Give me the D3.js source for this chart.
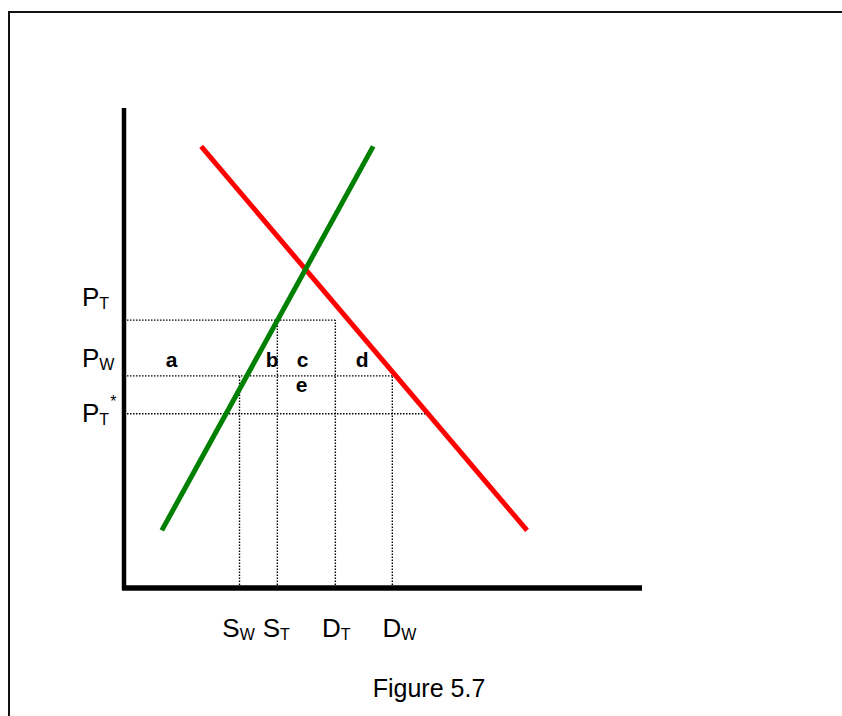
<!DOCTYPE html>
<html>
<head>
<meta charset="utf-8">
<script src="https://cdn.jsdelivr.net/npm/d3@7"></script>
<style>
  html, body { margin: 0; padding: 0; background: #fff; }
  svg { display: block; font-family: Arial, "Liberation Sans", sans-serif; }
</style>
</head>
<body>
<svg id="chart" width="842" height="716"></svg>
<script>
// Price levels (price units, 0-100 scale)
const priceNames = ["PT", "PW", "PTstar"];
const priceValues = [55.8, 44.2, 36.3];
const priceLabelMain = ["P", "P", "P"];
const priceLabelSub = ["T", "W", "T"];
const priceLabelSup = ["", "", "*"];

// Quantity levels (quantity units, 0-100 scale)
const qtyNames = ["SW", "ST", "DT", "DW"];
const qtyValues = [22.3, 29.6, 40.8, 51.8];
const qtyLabelMain = ["S", "S", "D", "D"];
const qtyLabelSub = ["W", "T", "T", "W"];
// price level each quantity guide rises to
const qtyGuideTop = ["PW", "PT", "PT", "PW"];

// Supply and demand line endpoints [quantity, price]
const supplyLine = [[7.3, 12], [48.1, 92]];
const demandLine = [[14.9, 92], [77.8, 12]];

// Quantity at which each horizontal price guide stops
const priceGuideEnd = [40.8, 51.8, 58.7];

// Area letters, with their quantity / price positions
const areaLetters = ["a", "b", "c", "d", "e"];
const areaQty = [9.2, 28.6, 34.5, 46.0, 34.3];
const areaPrice = [46.0, 46.0, 46.0, 46.0, 40.8];

const caption = "Figure 5.7";

const svg = d3.select("#chart");

// frame around the figure
svg.append("rect")
  .attr("x", 9).attr("y", 12)
  .attr("width", 900).attr("height", 800)
  .attr("fill", "none").attr("stroke", "#111").attr("stroke-width", 2);

const x = d3.scaleLinear().domain([0, 100]).range([124, 642]);
const y = d3.scaleLinear().domain([0, 100]).range([588, 108]);

const priceByName = {};
priceNames.forEach((n, i) => priceByName[n] = priceValues[i]);

// dotted guides
const guides = svg.append("g")
  .attr("stroke", "#000").attr("stroke-width", 1.4)
  .attr("stroke-dasharray", "1.5,1.5").attr("fill", "none");

priceValues.forEach((p, i) => {
  guides.append("line")
    .attr("x1", x(0)).attr("x2", x(priceGuideEnd[i]))
    .attr("y1", y(p)).attr("y2", y(p));
});
qtyValues.forEach((q, i) => {
  guides.append("line")
    .attr("x1", x(q)).attr("x2", x(q))
    .attr("y1", y(0)).attr("y2", y(priceByName[qtyGuideTop[i]]));
});

// supply and demand
const line = d3.line().x(d => x(d[0])).y(d => y(d[1]));
svg.append("path").datum(demandLine)
  .attr("d", line).attr("fill", "none")
  .attr("stroke", "#ff0000").attr("stroke-width", 5);
svg.append("path").datum(supplyLine)
  .attr("d", line).attr("fill", "none")
  .attr("stroke", "#008000").attr("stroke-width", 5);

// axes
svg.append("line")
  .attr("x1", x(0)).attr("x2", x(0))
  .attr("y1", y(100)).attr("y2", y(0) + 2)
  .attr("stroke", "#000").attr("stroke-width", 4.5);
svg.append("line")
  .attr("x1", x(0) - 2).attr("x2", x(100))
  .attr("y1", y(0)).attr("y2", y(0))
  .attr("stroke", "#000").attr("stroke-width", 5.5);

// price labels on the left
const priceDy = [-14, -9, 8];
priceValues.forEach((p, i) => {
  const t = svg.append("text")
    .attr("x", 82).attr("y", y(p) + priceDy[i])
    .attr("font-size", 26).attr("fill", "#000");
  t.append("tspan").text(priceLabelMain[i]);
  t.append("tspan").attr("font-size", 16).attr("dy", 3).text(priceLabelSub[i]);
  if (priceLabelSup[i]) {
    t.append("tspan").attr("font-size", 16).attr("dx", 1).attr("dy", -18).text(priceLabelSup[i]);
  }
});

// quantity labels below the axis
const qtyDx = [-1, -1, 1, 7];
qtyValues.forEach((q, i) => {
  const t = svg.append("text")
    .attr("x", x(q) + qtyDx[i]).attr("y", 637)
    .attr("text-anchor", "middle")
    .attr("font-size", 26).attr("fill", "#000");
  t.append("tspan").text(qtyLabelMain[i]);
  t.append("tspan").attr("font-size", 16).attr("dy", 3).text(qtyLabelSub[i]);
});

// area letters
areaLetters.forEach((l, i) => {
  svg.append("text")
    .attr("x", x(areaQty[i])).attr("y", y(areaPrice[i]))
    .attr("text-anchor", "middle")
    .attr("font-size", 21).attr("font-weight", "bold")
    .text(l);
});

svg.append("text")
  .attr("x", 429).attr("y", 697)
  .attr("text-anchor", "middle")
  .attr("font-size", 25)
  .text(caption);
</script>
</body>
</html>
